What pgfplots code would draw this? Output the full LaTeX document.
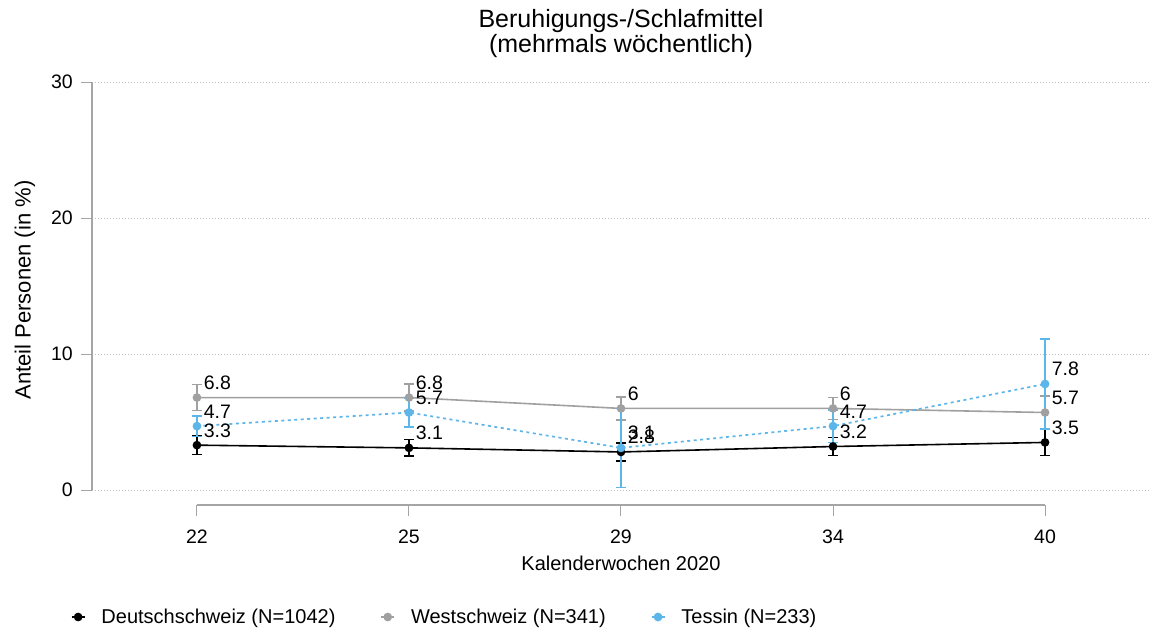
\documentclass[border=0pt]{standalone}
\usepackage{pgfplots}
\pgfplotsset{compat=1.18}
\usepackage{pgfplotstable}
\usepackage{fontspec}
\setmainfont{Liberation Sans}
\definecolor{westgray}{RGB}{160,160,160}
\definecolor{tessblue}{RGB}{93,182,234}
\definecolor{axgray}{RGB}{165,165,165}
\definecolor{gridgray}{RGB}{190,190,190}

\pgfplotstableread{
x y e lab
0 3.3 0.7 3.3
1 3.1 0.6 3.1
2 2.8 0.65 2.8
3 3.2 0.65 3.2
4 3.5 0.95 3.5
}\deutsch
\pgfplotstableread{
x y e lab
0 6.8 0.95 6.8
1 6.8 1.0 6.8
2 6.0 0.85 6
3 6.0 0.8 6
4 5.7 1.2 5.7
}\west
\pgfplotstableread{
x y e lab
0 4.7 0.75 4.7
1 5.7 1.05 5.7
2 3.1 2.9 3.1
3 4.7 1.2 4.7
4 7.8 3.3 7.8
}\tessin

\begin{document}
\begin{tikzpicture}[x=1pt,y=1pt]
\useasboundingbox (0,0) rectangle (1151,630);
\begin{axis}[
  at={(92pt,125pt)}, anchor=south west,
  scale only axis, width=1058pt, height=423pt,
  xmin=-0.495, xmax=4.495, ymin=-1.1, ymax=30,
  axis line style={draw=none},
  axis x line*=bottom, axis y line*=left,
  xtick={0,1,2,3,4}, xticklabels={22,25,29,34,40},
  ytick={0,10,20,30},
  tick align=outside,
  major tick length=11pt,
  xtick style={axgray, line width=1pt},
  ytick style={axgray, line width=1pt},
  ymajorgrids,
  grid style={gridgray, line width=0.8pt, dash pattern=on 0.8pt off 2.2pt},
  /pgf/number format/assume math mode=true,
  tick label style={font=\fontsize{19.5}{22}\selectfont, text=black, inner sep=0pt},
  yticklabel style={anchor=east, xshift=-8pt},
  xticklabel style={anchor=north, yshift=-14pt},
  title={Beruhigungs-/Schlafmittel\\(mehrmals wöchentlich)},
  title style={at={(axis description cs:0.5,1.0993)}, anchor=center, align=center, font=\fontsize{25}{25}\selectfont},
  xlabel={Kalenderwochen 2020},
  xlabel style={at={(axis description cs:0.5,-0.137)}, anchor=center, font=\fontsize{20}{22}\selectfont},
  ylabel={Anteil Personen (in \%)},
  ylabel style={at={(axis description cs:-0.0634,0.5083)}, anchor=center, font=\fontsize{22}{24}\selectfont},
  legend columns=3,
  legend cell align=left,
  legend style={at={(axis description cs:-0.023,-0.2648)}, anchor=west, draw=none, fill=none,
    font=\fontsize{20}{22}\selectfont,
    /tikz/every odd column/.append style={column sep=14pt},
    /tikz/every even column/.append style={column sep=43pt}},
  legend image code/.code={\draw[#1, solid, line width=1.6pt] (0pt,0pt) -- (13pt,0pt); \fill[#1, solid] (6.5pt,0pt) circle (3.5pt);},
  nodes near coords,
  point meta=explicit symbolic,
  nodes near coords style={anchor=south west, inner sep=0pt, xshift=6pt, yshift=7pt, text=black, font=\fontsize{19.5}{22}\selectfont},
  clip=false,
]
\addplot[black, line width=1.6pt, mark=*, mark size=3.5pt,
  error bars/.cd, y dir=both, y explicit,
  error bar style={line width=1.6pt, black},
  error mark options={black, line width=1.5pt, mark size=5pt, rotate=90}]
  table[x=x, y=y, y error=e, meta=lab] {\deutsch};
\addlegendentry{Deutschschweiz (N=1042)}
\addplot[westgray, line width=1.6pt, mark=*, mark size=3.5pt,
  error bars/.cd, y dir=both, y explicit,
  error bar style={line width=1.6pt, westgray},
  error mark options={westgray, line width=1.5pt, mark size=5pt, rotate=90}]
  table[x=x, y=y, y error=e, meta=lab] {\west};
\addlegendentry{Westschweiz (N=341)}
\addplot[tessblue, line width=1.7pt, dash pattern=on 3pt off 3.5pt, mark=*, mark size=3.5pt, mark options={solid},
  error bars/.cd, y dir=both, y explicit,
  error bar style={line width=1.9pt, tessblue, solid},
  error mark options={tessblue, solid, line width=1.5pt, mark size=5pt, rotate=90}]
  table[x=x, y=y, y error=e, meta=lab] {\tessin};
\addlegendentry{Tessin (N=233)}
% axis lines (ggplot-style offset axes)
\draw[axgray, line width=1.2pt] (axis cs:-0.495,0) -- (axis cs:-0.495,30);
\draw[axgray, line width=1.8pt] (axis cs:0,-1.1) -- (axis cs:4,-1.1);
\end{axis}
\end{tikzpicture}
\end{document}
